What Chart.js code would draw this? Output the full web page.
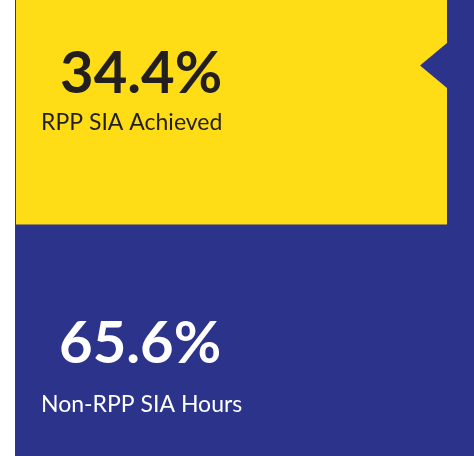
<!DOCTYPE html>
<html>
<head>
<meta charset="utf-8">
<script src="https://cdn.jsdelivr.net/npm/chart.js@4.4.0/dist/chart.umd.min.js"></script>
<style>
html, body { margin: 0; padding: 0; background: #fff; overflow: hidden; }
#wrap { width: 474px; height: 456px; }
</style>
</head>
<body>
<div id="wrap"><canvas id="rppChart" width="474" height="456"></canvas></div>
<script>
// data
const categories = ['SIA Hours'];
const seriesNames = ['RPP SIA Achieved', 'Non-RPP SIA Hours'];
const achievedValues = [34.4];
const nonRppValues = [65.6];

const yellow = '#FEDD17';
const navy = '#2B338B';

// text placement per segment (offset from segment top)
const textStyle = [
    { color: '#231F20', bigX: 60, bigY: 93, labelX: 41, labelY: 130 },
    { color: '#FFFFFF', bigX: 59, bigY: 139, labelX: 41, labelY: 188 }
];

// navy card behind the bars
const panelBg = {
    id: 'panelBg',
    beforeDraw(chart) {
        const ctx = chart.ctx;
        ctx.save();
        ctx.fillStyle = navy;
        ctx.fillRect(chart.chartArea.left - 1, 0, chart.width, chart.height);
        ctx.restore();
    }
};

// little pointer cut into the right edge of the yellow block + the labels
const segmentText = {
    id: 'segmentText',
    afterDatasetsDraw(chart) {
        const ctx = chart.ctx;
        ctx.save();
        const first = chart.getDatasetMeta(0).data[0].getProps(['x', 'y', 'base', 'width'], true);
        const right = first.x + first.width / 2;
        ctx.fillStyle = navy;
        ctx.beginPath();
        ctx.moveTo(right, 43);
        ctx.lineTo(right - 27, 65.5);
        ctx.lineTo(right, 88);
        ctx.closePath();
        ctx.fill();

        chart.data.datasets.forEach(function(ds, i) {
            const bar = chart.getDatasetMeta(i).data[0].getProps(['x', 'y', 'base', 'width'], true);
            const top = Math.min(bar.y, bar.base);
            const st = textStyle[i];
            ctx.fillStyle = st.color;
            ctx.textBaseline = 'alphabetic';
            ctx.textAlign = 'left';
            ctx.font = 'bold 58px Lato';
            ctx.fillText(ds.data[0].toFixed(1) + '%', st.bigX, top + st.bigY);
            ctx.font = '23px Lato';
            ctx.fillText(ds.label, st.labelX, top + st.labelY);
        });
        ctx.restore();
    }
};

const rppChart = new Chart(document.getElementById('rppChart'), {
    type: 'bar',
    data: {
        labels: categories,
        datasets: [{
            label: seriesNames[0],
            data: achievedValues,
            backgroundColor: yellow,
            borderWidth: 0,
            barPercentage: 1,
            categoryPercentage: 1
        }, {
            label: seriesNames[1],
            data: nonRppValues,
            backgroundColor: navy,
            borderWidth: 0,
            barPercentage: 1,
            categoryPercentage: 1
        }]
    },
    options: {
        responsive: false,
        animation: false,
        layout: {
            padding: { left: 16, right: 27, top: 0, bottom: 0 }
        },
        scales: {
            x: { display: false, stacked: true },
            y: { display: false, stacked: true, reverse: true, min: 0, max: 70 }
        },
        plugins: {
            legend: { display: false },
            tooltip: { enabled: false }
        }
    },
    plugins: [panelBg, segmentText]
});
</script>
</body>
</html>
